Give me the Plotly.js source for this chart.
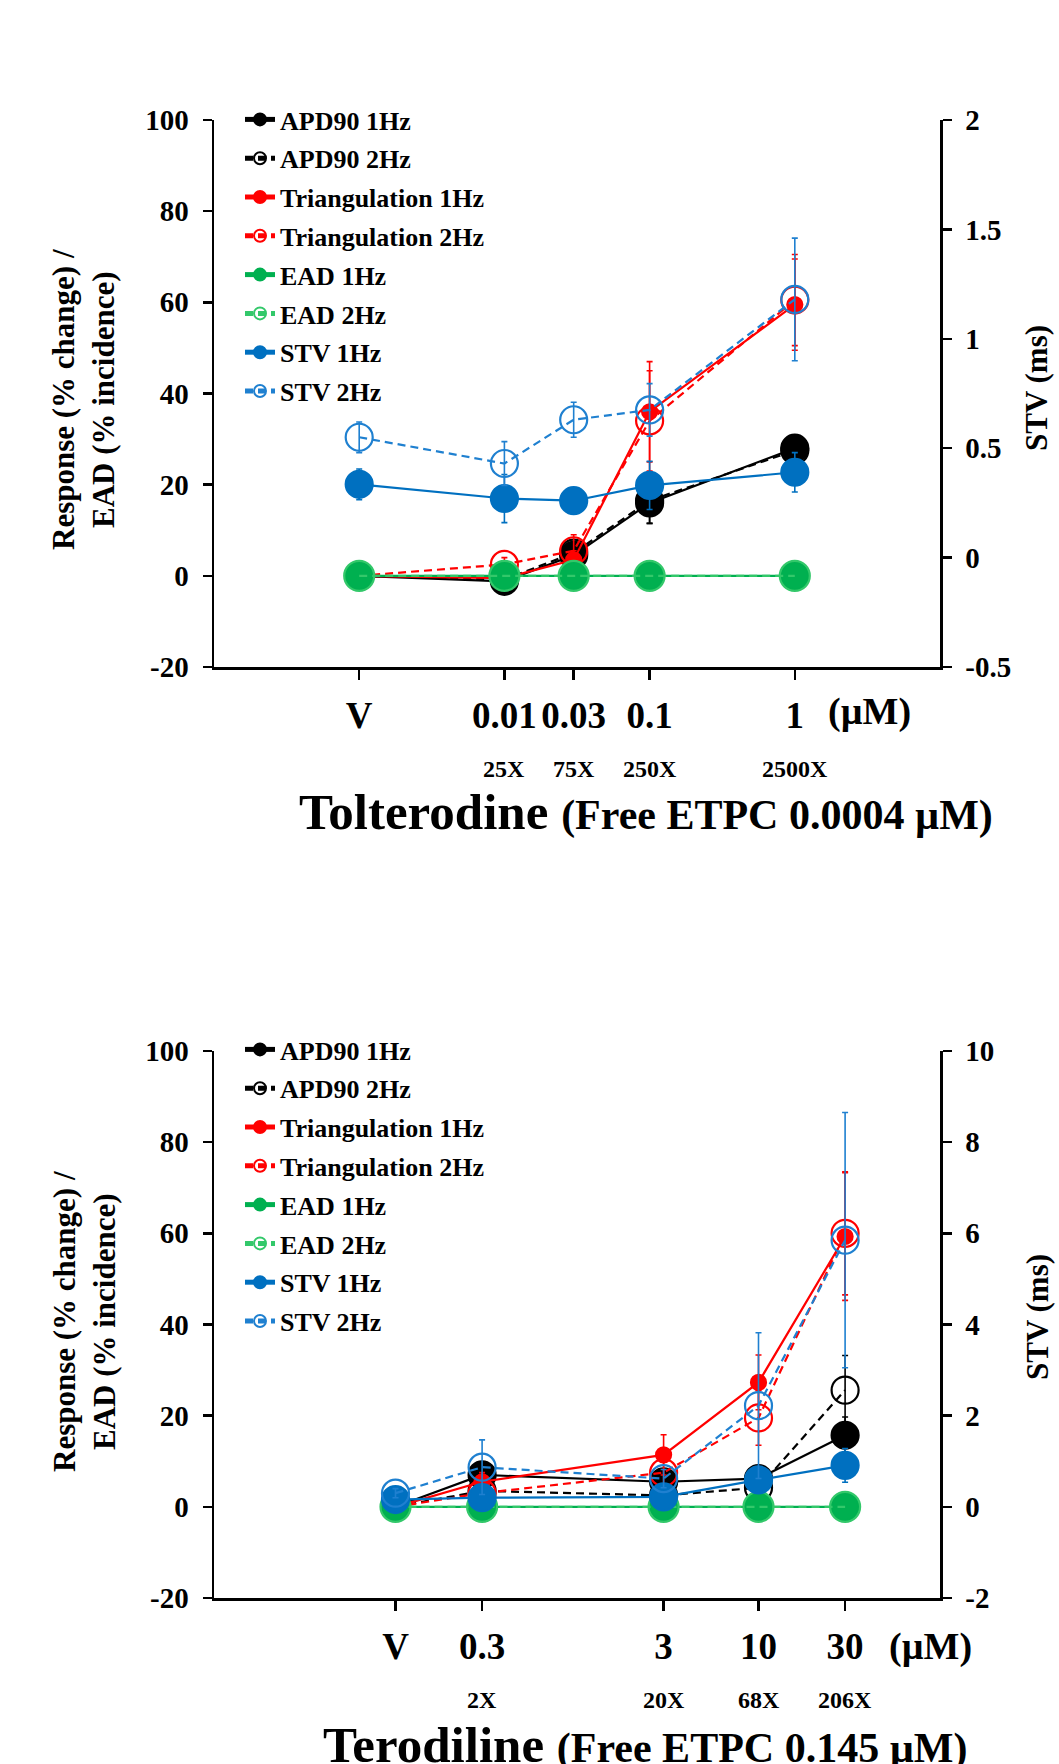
<!DOCTYPE html>
<html><head><meta charset="utf-8">
<script src="https://cdn.plot.ly/plotly-3.0.1.min.js"></script>
<style>html,body{margin:0;padding:0;background:#fff}#chart{width:1059px;height:1764px}</style>
</head><body><div id="chart"></div>
<script>
// ---------- data ----------
const seriesNames = ['APD90 1Hz','APD90 2Hz','Triangulation 1Hz','Triangulation 2Hz','EAD 1Hz','EAD 2Hz','STV 1Hz','STV 2Hz'];

// Tolterodine (top)
const tolDose = [0.001, 0.01, 0.03, 0.1, 1];
const tolDoseLabels = ['V','0.01','0.03','0.1','1'];
const tolMultiples = ['','25X','75X','250X','2500X'];
const tolApd1 = [0, -1.2, 4.5, 16, 28];
const tolApd1Err = [0.5, 1, 1.5, 4.5, 2];
const tolApd2 = [0, -0.8, 5, 16.5, 27.5];
const tolApd2Err = [0.5, 1, 1.5, 5, 2.5];
const tolTri1 = [0, -0.5, 3.5, 36, 59.5];
const tolTri1Err = [0.5, 1, 2, 11, 10];
const tolTri2 = [0, 2.5, 5.5, 34, 60.5];
const tolTri2Err = [0.5, 1.5, 3.5, 11, 10];
const tolEad1 = [0, 0, 0, 0, 0];
const tolEad2 = [0, 0, 0, 0, 0];
const tolStv1 = [0.335, 0.27, 0.26, 0.33, 0.39];
const tolStv1Err = [0.07, 0.11, 0.02, 0.11, 0.09];
const tolStv2 = [0.55, 0.43, 0.63, 0.675, 1.18];
const tolStv2Err = [0.07, 0.1, 0.08, 0.12, 0.28];
const tolY1Ticks = [-20, 0, 20, 40, 60, 80, 100];
const tolY1Labels = ['-20','0','20','40','60','80','100'];
const tolY2Ticks = [-0.5, 0, 0.5, 1, 1.5, 2];
const tolY2Labels = ['-0.5','0','0.5','1','1.5','2'];

// Terodiline (bottom)
const terDose = [0.1, 0.3, 3, 10, 30];
const terDoseLabels = ['V','0.3','3','10','30'];
const terMultiples = ['','2X','20X','68X','206X'];
const terApd1 = [0, 7, 5.5, 6.2, 15.7];
const terApd1Err = [0.5, 2, 1.5, 2, 4];
const terApd2 = [0, 3.5, 2.5, 4.2, 25.6];
const terApd2Err = [0.5, 1.5, 1, 2, 7.6];
const terTri1 = [0, 5.5, 11.4, 27.3, 59.3];
const terTri1Err = [0.5, 2, 4.4, 6, 14];
const terTri2 = [0, 3, 7.5, 19.5, 60];
const terTri2Err = [0.5, 1.5, 2.5, 6, 13.5];
const terEad1 = [0, 0, 0, 0, 0];
const terEad2 = [0, 0, 0, 0, 0];
const terStv1 = [0.16, 0.2, 0.22, 0.59, 0.91];
const terStv1Err = [0.05, 0.05, 0.05, 0.1, 0.37];
const terStv2 = [0.3, 0.87, 0.62, 2.22, 5.85];
const terStv2Err = [0.1, 0.6, 0.2, 1.6, 2.8];
const terY1Ticks = [-20, 0, 20, 40, 60, 80, 100];
const terY1Labels = ['-20','0','20','40','60','80','100'];
const terY2Ticks = [-2, 0, 2, 4, 6, 8, 10];
const terY2Labels = ['-2','0','2','4','6','8','10'];

// ---------- styles ----------
const FONT = 'Liberation Serif, Times New Roman, serif';
const styles = [
  {color:'#000000', symbol:'circle',      size:27, dash:'solid'},
  {color:'#000000', symbol:'circle-open', size:27, dash:'8px,5px'},
  {color:'#FF0000', symbol:'circle',      size:15, dash:'solid'},
  {color:'#FF0000', symbol:'circle-open', size:27, dash:'8px,5px'},
  {color:'#00B050', symbol:'circle',      size:27, dash:'solid'},
  {color:'#33C86A', symbol:'circle-open', size:30, dash:'8px,5px'},
  {color:'#0070C0', symbol:'circle',      size:27, dash:'solid'},
  {color:'#1F80D0', symbol:'circle-open', size:27, dash:'8px,5px'}
];

function makeTraces(dose, vals, errs, xa, ya1, ya2, legendId, grpPrefix) {
  return vals.map((v, i) => {
    const s = styles[i];
    const t = {
      type:'scatter', mode:'lines+markers', name:seriesNames[i],
      x:dose, y:v, xaxis:xa, yaxis:(i >= 6 ? ya2 : ya1),
      legend:legendId, legendgroup:grpPrefix + i,
      line:{color:s.color, width:2.2, dash:s.dash},
      marker:{symbol:s.symbol, size:s.size, color:s.color, line:{color:s.color, width:2.2}},
      hoverinfo:'skip'
    };
    if (errs[i]) {
      t.error_y = {type:'data', array:errs[i], symmetric:true, color:s.color, thickness:1.6, width:3};
    }
    return t;
  });
}

const traces = [].concat(
  makeTraces(tolDose,
    [tolApd1, tolApd2, tolTri1, tolTri2, tolEad1, tolEad2, tolStv1, tolStv2],
    [tolApd1Err, tolApd2Err, tolTri1Err, tolTri2Err, null, null, tolStv1Err, tolStv2Err],
    'x', 'y', 'y2', 'legend', 'a'),
  makeTraces(terDose,
    [terApd1, terApd2, terTri1, terTri2, terEad1, terEad2, terStv1, terStv2],
    [terApd1Err, terApd2Err, terTri1Err, terTri2Err, null, null, terStv1Err, terStv2Err],
    'x2', 'y3', 'y4', 'legend2', 'b')
);

// ---------- layout ----------
const W = 1059, H = 1764;
const px = v => v / W;
const py = v => 1 - v / H;
const xDom = [px(214), px(940)];
const topDom = [py(667), py(120)];
const botDom = [py(1598), py(1051)];

function xAxis(range, vals, labels, anchor) {
  return {
    type:'log', range:range, domain:xDom, anchor:anchor,
    tickmode:'array', tickvals:vals, ticktext:labels, tickangle:0,
    ticks:'outside', ticklen:10, tickwidth:2.5, tickcolor:'#000',
    showline:true, linewidth:2.5, linecolor:'#000',
    showgrid:false, zeroline:false, ticklabelstandoff:4,
    tickfont:{family:FONT, size:37, color:'#000', weight:'bold'}
  };
}
function yAxis(range, vals, labels, dom, anchor, side, overlay) {
  const a = {
    range:range, domain:dom, anchor:anchor, side:side,
    tickmode:'array', tickvals:vals, ticktext:labels,
    ticks:'outside', ticklen:9, tickwidth:2.5, tickcolor:'#000',
    showline:true, linewidth:2.5, linecolor:'#000',
    showgrid:false, zeroline:false, ticklabelstandoff:8,
    tickfont:{family:FONT, size:29, color:'#000', weight:'bold'}
  };
  if (overlay) a.overlaying = overlay;
  return a;
}

const annotations = [];
function addAnn(o) {
  annotations.push(Object.assign({showarrow:false, xanchor:'center', yanchor:'middle',
    font:{family:FONT, color:'#000', weight:'bold'}}, o));
}
const multFont = {family:FONT, size:24, color:'#000', weight:'bold'};

// multiples
tolMultiples.forEach((m, i) => { if (m) addAnn({xref:'x', yref:'paper', x:Math.log10(tolDose[i]), y:py(769), text:m, font:multFont}); });
terMultiples.forEach((m, i) => { if (m) addAnn({xref:'x2', yref:'paper', x:Math.log10(terDose[i]), y:py(1700), text:m, font:multFont}); });
// units
addAnn({xref:'paper', yref:'paper', x:px(869), y:py(712), text:'(µM)', font:{family:FONT, size:38, color:'#000', weight:'bold'}});
addAnn({xref:'paper', yref:'paper', x:px(930), y:py(1646), text:'(µM)', font:{family:FONT, size:38, color:'#000', weight:'bold'}});
// x titles
addAnn({xref:'paper', yref:'paper', x:px(646), y:py(812), text:"Tolterodine <span style='font-size:42px'>(Free ETPC 0.0004 µM)</span>", font:{family:FONT, size:51, color:'#000', weight:'bold'}});
addAnn({xref:'paper', yref:'paper', x:px(645), y:py(1745), text:"Terodiline <span style='font-size:42px'>(Free ETPC 0.145 µM)</span>", font:{family:FONT, size:51, color:'#000', weight:'bold'}});
// y titles
const yTitle = 'Response (% change) /<br>EAD (% incidence)';
addAnn({xref:'paper', yref:'paper', x:px(84), y:py(400), text:yTitle, textangle:-90, font:{family:FONT, size:31, color:'#000', weight:'bold'}});
addAnn({xref:'paper', yref:'paper', x:px(84), y:py(1322), text:yTitle, textangle:-90, font:{family:FONT, size:31, color:'#000', weight:'bold'}});
addAnn({xref:'paper', yref:'paper', x:px(1037), y:py(388), text:'STV (ms)', textangle:-90, font:{family:FONT, size:31, color:'#000', weight:'bold'}});
addAnn({xref:'paper', yref:'paper', x:px(1037), y:py(1317), text:'STV (ms)', textangle:-90, font:{family:FONT, size:31, color:'#000', weight:'bold'}});

function legendCfg(topPx) {
  return {
    x:px(240), y:py(topPx), xanchor:'left', yanchor:'top',
    bgcolor:'rgba(0,0,0,0)', borderwidth:0,
    font:{family:FONT, size:26, color:'#000', weight:'bold'},
    itemsizing:'constant', tracegroupgap:2, itemwidth:30
  };
}

const layout = {
  width:W, height:H, margin:{l:0, r:0, t:0, b:0},
  paper_bgcolor:'#fff', plot_bgcolor:'#fff',
  showlegend:true,
  xaxis:xAxis([-4, 1], tolDose, tolDoseLabels, 'y'),
  yaxis:yAxis([-20, 100], tolY1Ticks, tolY1Labels, topDom, 'x', 'left'),
  yaxis2:yAxis([-0.5, 2], tolY2Ticks, tolY2Labels, topDom, 'x', 'right', 'y'),
  xaxis2:xAxis([-2, 2], terDose, terDoseLabels, 'y3'),
  yaxis3:yAxis([-20, 100], terY1Ticks, terY1Labels, botDom, 'x2', 'left'),
  yaxis4:yAxis([-2, 10], terY2Ticks, terY2Labels, botDom, 'x2', 'right', 'y3'),
  legend:legendCfg(96),
  legend2:legendCfg(1026),
  annotations:annotations
};

Plotly.newPlot('chart', traces, layout, {displayModeBar:false, staticPlot:true});
</script>
</body></html>
